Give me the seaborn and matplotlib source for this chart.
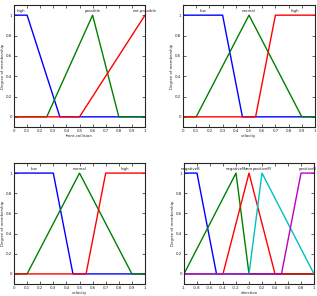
import numpy as np
import pandas as pd
import matplotlib
matplotlib.use("Agg")
import matplotlib.pyplot as plt
import seaborn as sns

# === DATA (breakpoints of each membership function) ===
fc_names = ["high", "possible", "not-possible"]
fc_x = [[0, 0, 0.1, 0.35, 1], [0, 0.25, 0.6, 0.8, 1], [0, 0.5, 1]]
fc_y = [[1, 1, 1, 0, 0], [0, 0, 1, 0, 0], [0, 0, 1]]
fc_label_x = [0.05, 0.6, 1.0]

vel_names = ["low", "normal", "high"]
vel_x = [[0, 0.3, 0.45, 1], [0, 0.1, 0.5, 0.9, 1], [0, 0.55, 0.7, 1]]
vel_y = [[1, 1, 0, 0], [0, 0, 1, 0, 0], [0, 0, 1, 1]]
vel_label_x = [0.15, 0.5, 0.85]

dir_names = ["negativeB", "negativeM", "zero", "positiveM", "positiveB"]
dir_x = [[-1, -0.8, -0.5, 1], [-1, -0.2, 0, 1], [-1, -0.4, 0, 0.4, 1],
         [-1, 0, 0.2, 1], [-1, 0.5, 0.8, 1]]
dir_y = [[1, 1, 0, 0], [0, 1, 0, 0], [0, 0, 1, 0, 0], [0, 0, 1, 0], [0, 0, 1, 1]]
dir_label_x = [-0.9, -0.2, 0, 0.2, 0.9]

colors = ["b", "g", "r", "c", "m"]

sns.set_style("ticks")
plt.rcParams["font.family"] = ["DejaVu Sans"]
plt.rcParams["xtick.direction"] = "in"
plt.rcParams["ytick.direction"] = "in"
FS = 2.8


def draw(ax, names, xs, ys, label_xs, xlabel, xlim, xticks):
    for i, name in enumerate(names):
        df = pd.DataFrame({"x": xs[i], "y": ys[i]})
        sns.lineplot(data=df, x="x", y="y", ax=ax, color=colors[i],
                     linewidth=1.0, estimator=None, sort=False)
        ax.text(label_xs[i], 1.02, name, ha="center", va="bottom", fontsize=FS)
    ax.set_xlim(*xlim)
    ax.set_ylim(-0.1, 1.1)
    ax.set_xticks(xticks)
    ax.set_xticklabels([f"{t:g}" for t in xticks])
    ax.set_yticks([0, 0.2, 0.4, 0.6, 0.8, 1])
    ax.set_yticklabels(["0", "0.2", "0.4", "0.6", "0.8", "1"])
    ax.tick_params(top=True, right=True, length=2, width=0.5, pad=1.5, labelsize=FS)
    ax.set_xlabel(xlabel, fontsize=FS, labelpad=1)
    ax.set_ylabel("Degree of membership", fontsize=FS, labelpad=0.5)
    for s in ax.spines.values():
        s.set_linewidth(0.8)


fig = plt.figure(figsize=(3.17, 2.96), dpi=100)
ax1 = fig.add_axes([14 / 317, 1 - 127 / 296, 131 / 317, 122 / 296])
ax2 = fig.add_axes([183 / 317, 1 - 127 / 296, 132 / 317, 122 / 296])
ax3 = fig.add_axes([14 / 317, 1 - 284 / 296, 131 / 317, 121 / 296])
ax4 = fig.add_axes([184 / 317, 1 - 284 / 296, 130 / 317, 121 / 296])

ticks01 = list(np.round(np.arange(0, 1.01, 0.1), 1))
ticks_dir = list(np.round(np.arange(-1, 1.01, 0.2), 1))

draw(ax1, fc_names, fc_x, fc_y, fc_label_x, "front-collision", (0, 1), ticks01)
draw(ax2, vel_names, vel_x, vel_y, vel_label_x, "velocity", (0, 1), ticks01)
draw(ax3, vel_names, vel_x, vel_y, vel_label_x, "velocity", (0, 1), ticks01)
draw(ax4, dir_names, dir_x, dir_y, dir_label_x, "direction", (-1, 1), ticks_dir)

fig.savefig("out.png", dpi=100)
